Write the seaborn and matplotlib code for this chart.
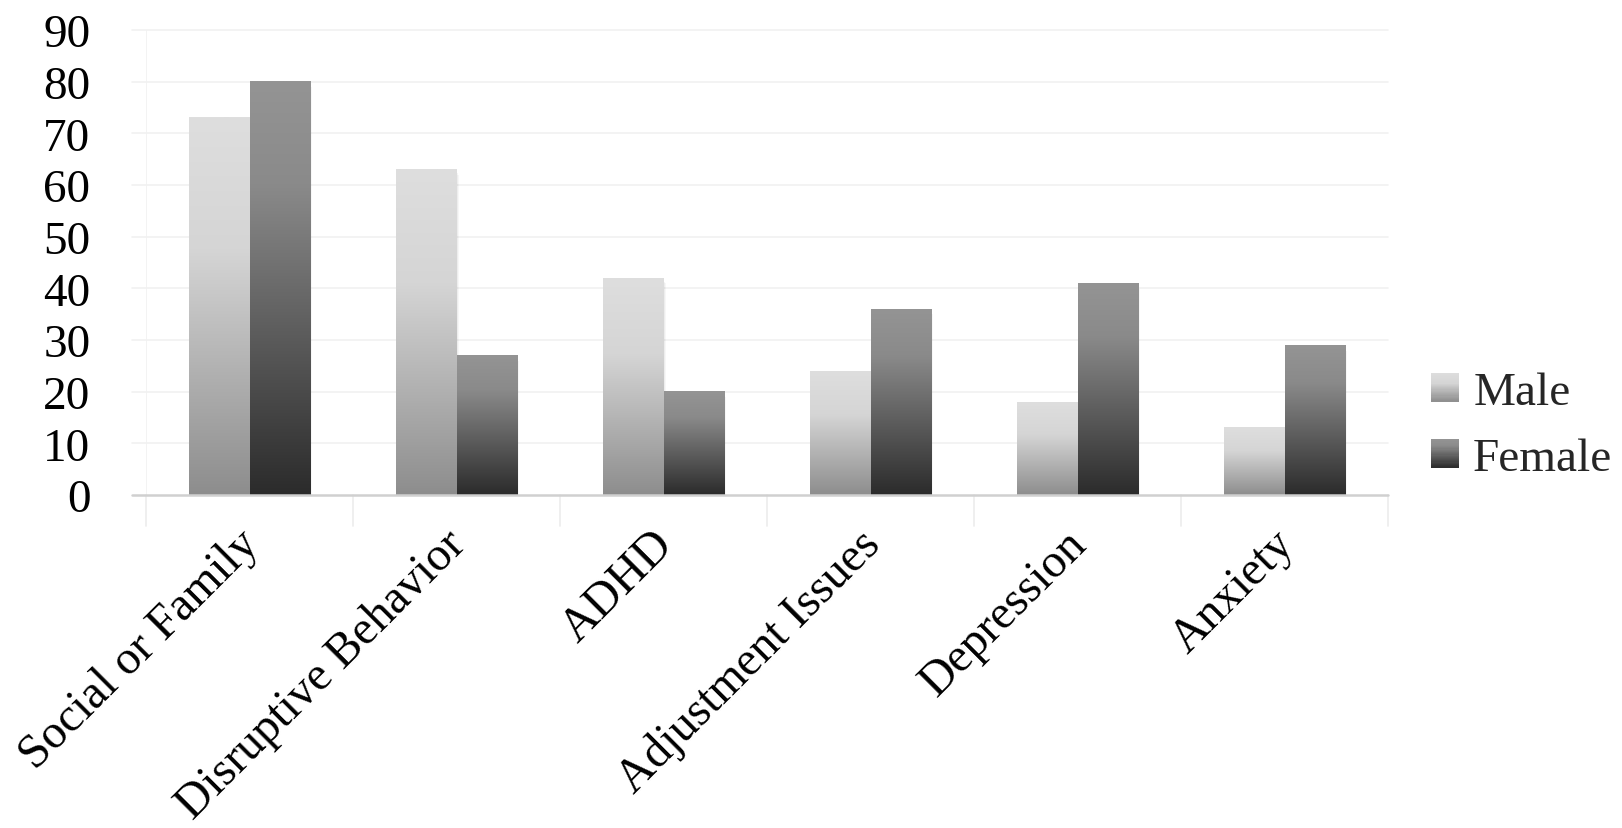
import numpy as np
import pandas as pd
import matplotlib
matplotlib.use("Agg")
import matplotlib.pyplot as plt
import matplotlib.transforms as mtransforms
import seaborn as sns
from matplotlib.colors import to_rgb
from matplotlib.patches import Rectangle
from matplotlib.legend_handler import HandlerBase

categories = ["Social or Family", "Disruptive Behavior", "ADHD",
              "Adjustment Issues", "Depression", "Anxiety"]
male = [73, 63, 42, 24, 18, 13]
female = [80, 27, 20, 36, 41, 29]
series = ["Male", "Female"]
yticks = [0, 10, 20, 30, 40, 50, 60, 70, 80, 90]

# gradient stops (position from top of bar, colour)
gradients = {
    "Male": [(0.0, "#dedede"), (0.35, "#d5d5d5"), (1.0, "#8d8d8d")],
    "Female": [(0.0, "#949494"), (0.25, "#8a8a8a"), (1.0, "#2b2b2b")],
}

df = pd.DataFrame({
    "category": categories * 2,
    "value": male + female,
    "sex": ["Male"] * len(categories) + ["Female"] * len(categories),
})

sns.set_theme(style="white")
plt.rcParams["font.family"] = ["Liberation Serif", "DejaVu Serif"]

FS_Y = 34
FS_X = 34.3
FS_LEG = 34

fig = plt.figure(figsize=(16.22, 8.29), dpi=100)
ax = fig.add_axes([146 / 1622, 1 - 496 / 829, (1388 - 146) / 1622, (496 - 31) / 829])

sns.barplot(data=df, x="category", y="value", hue="sex", order=categories,
            hue_order=series, width=0.58, ax=ax, legend=False,
            palette={"Male": "#cccccc", "Female": "#666666"},
            saturation=1, linewidth=0)


def ramp(stops, n=256):
    t = np.linspace(0, 1, n)
    pos = [s[0] for s in stops]
    cols = np.array([to_rgb(s[1]) for s in stops])
    out = np.stack([np.interp(t, pos, cols[:, k]) for k in range(3)], axis=1)
    return out


ramps = {k: ramp(v) for k, v in gradients.items()}

ax.set_xlim(-0.5, len(categories) - 0.5)
ax.set_ylim(0, 90)

n_cat = len(categories)
for i, patch in enumerate(ax.patches):
    name = series[i // n_cat]
    x, w, h = patch.get_x(), patch.get_width(), patch.get_height()
    patch.set_visible(False)
    # soft drop shadow
    for k, a in enumerate([0.05, 0.04, 0.03]):
        off = 0.006 * (k + 1)
        ax.add_patch(Rectangle((x + off * 0.6, -0.35 * (k + 1)), w, h,
                               facecolor="black", alpha=a, linewidth=0, zorder=2))
    img = ramps[name].reshape(-1, 1, 3)
    ax.imshow(img, extent=[x, x + w, 0, h], aspect="auto", origin="upper",
              zorder=3, interpolation="bilinear")

ax.set_xlim(-0.5, len(categories) - 0.5)
ax.set_ylim(0, 90)

# faint horizontal gridlines
for yv in yticks[1:]:
    ax.axhline(yv, xmin=-0.011, xmax=1.0, color="#f1f1f1", lw=1.2,
               zorder=0, clip_on=False)
ax.axhline(0, xmin=-0.011, xmax=1.0, color="#d0d0d0", lw=1.8, zorder=4, clip_on=False)

for s in ax.spines.values():
    s.set_visible(False)
ax.axvline(-0.5, color="#f1f1f1", lw=1.2, zorder=0)
# category separator ticks below the baseline
for b in np.arange(-0.5, len(categories) + 0.5, 1.0):
    ax.plot([b, b], [0, -6], color="#ececec", lw=1.2, clip_on=False, zorder=0)

ax.set_yticks(yticks)
ax.set_yticklabels([str(v) for v in yticks], fontsize=FS_Y, color="black")
ax.tick_params(axis="y", length=0, pad=40)
ax.set_xticks(range(len(categories)))
ax.set_xticklabels(categories, fontsize=FS_X, rotation=45, ha="right",
                   rotation_mode="anchor", color="black")
ax.tick_params(axis="x", length=0, pad=22)
shift = mtransforms.ScaledTranslation(-13 / 100, 4 / 100, fig.dpi_scale_trans)
for lab in ax.get_xticklabels():
    lab.set_transform(lab.get_transform() + shift)
ax.set_xlabel("")
ax.set_ylabel("")
ax.grid(False)


class GradientSquare(HandlerBase):
    def __init__(self, name):
        super().__init__()
        self.name = name

    def create_artists(self, legend, orig_handle, xdescent, ydescent,
                       width, height, fontsize, trans):
        cols = ramps[self.name]
        n = 24
        size = height
        x0 = -xdescent + (width - size)
        y0 = -ydescent
        arts = []
        for j in range(n):
            c = cols[int((j + 0.5) / n * (len(cols) - 1))]
            arts.append(Rectangle((x0, y0 + size * (n - j - 1) / n), size, size / n + 0.3,
                                  facecolor=c, edgecolor="none", transform=trans))
        return arts


handles = [Rectangle((0, 0), 1, 1) for _ in series]
handler_map = {h: GradientSquare(s) for h, s in zip(handles, series)}
leg = fig.legend(handles, series, handler_map=handler_map, loc="center left",
                 bbox_to_anchor=(1433 / 1622, 1 - 427 / 829), frameon=False,
                 fontsize=FS_LEG, handlelength=0.55, handleheight=0.55,
                 handletextpad=0.3, labelspacing=0.5, borderpad=0,
                 borderaxespad=0)

fig.savefig("out.png", dpi=100, facecolor="white")
